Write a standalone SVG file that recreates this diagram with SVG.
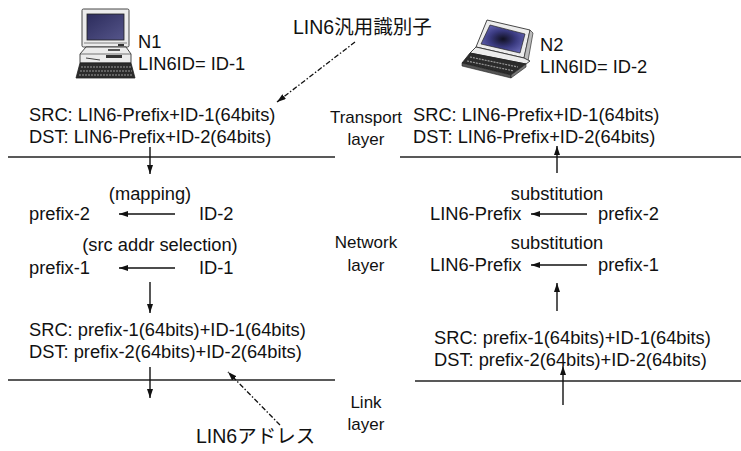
<svg xmlns="http://www.w3.org/2000/svg" width="741" height="451" viewBox="0 0 741 451">
  <style>
    text { font-family: "Liberation Sans", Arial, "Noto Sans CJK JP", sans-serif; font-size: 18.3px; fill: #111; }
    .jp { font-family: "Liberation Sans", "Noto Sans CJK JP", sans-serif; font-size: 19.5px; }
    .lay { font-size: 17px; text-anchor: middle; }
    .mid { text-anchor: middle; }
    .rule { stroke: #222; stroke-width: 1.6; fill: none; }
    .flow { stroke: #111; stroke-width: 1.4; fill: none; marker-end: url(#ah); }
    .hint { stroke: #111; stroke-width: 1.3; fill: none; stroke-dasharray: 5 2 1.5 2; marker-end: url(#ah); }
    .dk { fill: #2b2b2b; stroke: #222; stroke-width: 0.8; }
    .lt { fill: #ececec; stroke: #333; stroke-width: 0.9; }
    .keys { stroke: #9a9a9a; stroke-width: 1.2; stroke-dasharray: 2 1; fill: none; }
  </style>
  <defs>
    <marker id="ah" markerUnits="userSpaceOnUse" markerWidth="9" markerHeight="6" refX="9" refY="3" orient="auto">
      <path d="M0,0 L9,3 L0,6 z" fill="#111"/>
    </marker>
    <linearGradient id="crt" x1="0" y1="0" x2="1" y2="1">
      <stop offset="0" stop-color="#2c2c5c"/>
      <stop offset="1" stop-color="#55558a"/>
    </linearGradient>
    <radialGradient id="lcd" cx="0.5" cy="0.5" r="0.6">
      <stop offset="0" stop-color="#111122"/>
      <stop offset="0.5" stop-color="#3a3a80"/>
      <stop offset="1" stop-color="#6a6ab8"/>
    </radialGradient>
  </defs>

  <!-- host N1: desktop workstation -->
  <g id="n1">
    <rect class="lt" x="82" y="9" width="47" height="38" rx="1.5"/>
    <rect x="87" y="14" width="37" height="26" fill="url(#crt)" stroke="#222" stroke-width="0.8"/>
    <line x1="84" y1="43" x2="127" y2="43" stroke="#555" stroke-width="0.7"/>
    <rect x="118" y="44" width="6" height="2" fill="#333"/>
    <polygon class="lt" points="86,47 126,47 131,54 131,63 80,63 80,54"/>
    <line x1="80" y1="54" x2="131" y2="54" stroke="#444" stroke-width="0.7"/>
    <rect x="106" y="55" width="16" height="3" fill="#333"/>
    <line x1="86" y1="58" x2="100" y2="60" stroke="#444" stroke-width="1"/>
    <rect x="108" y="49" width="12" height="2" fill="#555"/>
    <polygon class="dk" points="80,63 131,63 135,78 76,78"/>
    <line class="keys" x1="81" y1="67" x2="131" y2="67"/>
    <line class="keys" x1="80" y1="71" x2="132" y2="71"/>
    <line class="keys" x1="79" y1="75" x2="133" y2="75"/>
    <text x="138" y="48">N1</text>
    <text x="138" y="70">LIN6ID= ID-1</text>
  </g>

  <!-- host N2: notebook -->
  <g id="n2">
    <polygon class="lt" points="487,20 530,30 524,58 476,47"/>
    <polygon points="490,25 525,34 520,53 481,44" fill="url(#lcd)" stroke="#222" stroke-width="0.7"/>
    <polygon points="530,30 533,33 528,61 524,58" fill="#bbb" stroke="#333" stroke-width="0.7"/>
    <polygon class="lt" points="476,47 524,58 530,61 526,64 470,53"/>
    <polygon class="dk" points="470,53 526,64 511,75 462,63"/>
    <line class="keys" x1="470" y1="57" x2="518" y2="67"/>
    <line class="keys" x1="467" y1="61" x2="514" y2="71"/>
    <polygon points="462,63 511,75 511,78 462,66" fill="#555" stroke="#222" stroke-width="0.6"/>
    <polygon points="511,75 526,64 526,67 511,78" fill="#777" stroke="#222" stroke-width="0.6"/>
    <text x="540" y="51">N2</text>
    <text x="540" y="73">LIN6ID= ID-2</text>
  </g>

  <!-- layer names -->
  <g id="layers">
    <text class="lay" x="366" y="123">Transport</text>
    <text class="lay" x="366" y="145">layer</text>
    <text class="lay" x="366" y="248">Network</text>
    <text class="lay" x="366" y="271">layer</text>
    <text class="lay" x="366" y="408">Link</text>
    <text class="lay" x="366" y="430">layer</text>
  </g>

  <!-- sender side (N1) -->
  <g id="tx-transport">
    <text x="29" y="121">SRC: LIN6-Prefix+ID-1(64bits)</text>
    <text x="29" y="143">DST: LIN6-Prefix+ID-2(64bits)</text>
  </g>
  <g id="tx-mapping">
    <text class="mid" x="150" y="200">(mapping)</text>
    <text x="29" y="220">prefix-2</text>
    <text x="199" y="220">ID-2</text>
  </g>
  <g id="tx-select">
    <text class="mid" x="160" y="251">(src addr selection)</text>
    <text x="29" y="274">prefix-1</text>
    <text x="199" y="274">ID-1</text>
  </g>
  <g id="tx-network">
    <text x="29" y="336">SRC: prefix-1(64bits)+ID-1(64bits)</text>
    <text x="29" y="358">DST: prefix-2(64bits)+ID-2(64bits)</text>
  </g>

  <!-- receiver side (N2) -->
  <g id="rx-transport">
    <text x="413" y="121">SRC: LIN6-Prefix+ID-1(64bits)</text>
    <text x="413" y="143">DST: LIN6-Prefix+ID-2(64bits)</text>
  </g>
  <g id="rx-subst2">
    <text class="mid" x="557" y="200">substitution</text>
    <text x="430" y="220">LIN6-Prefix</text>
    <text x="598" y="220">prefix-2</text>
  </g>
  <g id="rx-subst1">
    <text class="mid" x="557" y="249">substitution</text>
    <text x="430" y="271">LIN6-Prefix</text>
    <text x="598" y="271">prefix-1</text>
  </g>
  <g id="rx-network">
    <text x="434" y="344">SRC: prefix-1(64bits)+ID-1(64bits)</text>
    <text x="434" y="366">DST: prefix-2(64bits)+ID-2(64bits)</text>
  </g>

  <!-- annotations -->
  <g id="note-id">
    <text class="jp" x="293" y="34">LIN6汎用識別子</text>
  </g>
  <g id="note-addr">
    <text class="jp" x="196" y="443">LIN6アドレス</text>
  </g>

  <!-- layer boundaries and flows -->
  <g id="connectors">
    <line class="rule" x1="8" y1="157" x2="335" y2="157"/>
    <line class="rule" x1="400" y1="157" x2="741" y2="157"/>
    <line class="rule" x1="8" y1="380" x2="335" y2="380"/>
    <line class="rule" x1="415" y1="381" x2="741" y2="381"/>

    <line class="flow" x1="150" y1="147" x2="150" y2="174"/>
    <line class="flow" x1="175" y1="214" x2="119" y2="214"/>
    <line class="flow" x1="175" y1="268" x2="119" y2="268"/>
    <line class="flow" x1="150" y1="282" x2="150" y2="313"/>
    <line class="flow" x1="150" y1="367" x2="150" y2="398"/>

    <line class="flow" x1="557" y1="173" x2="557" y2="146"/>
    <line class="flow" x1="587" y1="214" x2="531" y2="214"/>
    <line class="flow" x1="587" y1="265" x2="531" y2="265"/>
    <line class="flow" x1="557" y1="311" x2="557" y2="283"/>
    <line class="flow" x1="563" y1="405" x2="563" y2="366"/>

    <line class="hint" x1="355" y1="42" x2="277" y2="102"/>
    <line class="hint" x1="280" y1="425" x2="228" y2="372"/>
  </g>
</svg>
